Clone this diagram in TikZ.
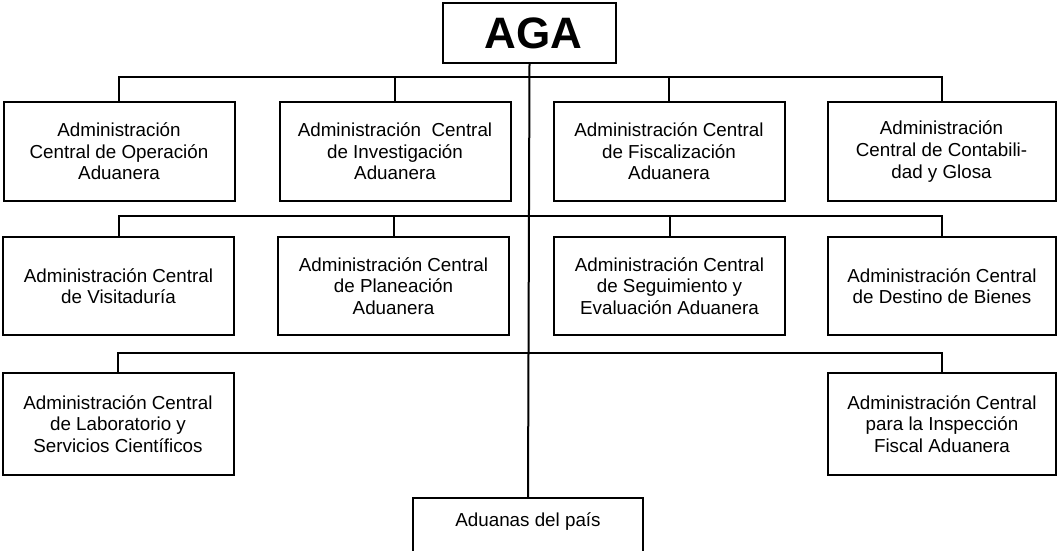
\documentclass[tikz,border=0pt]{standalone}
\usepackage{fontspec}
\setmainfont{Liberation Sans}
\begin{document}
\begin{tikzpicture}[x=1pt,y=-1pt,
  unit/.style={draw=black, line width=2pt, minimum width=231pt, minimum height=99pt,
    inner sep=0pt, align=center, font=\fontsize{18.8pt}{21.6pt}\selectfont},
  link/.style={draw=black, line width=2pt}]
\useasboundingbox[fill=white] (0,0) rectangle (1058,550);
\clip (0,0) rectangle (1058,550);
\node[draw=black, line width=2pt, minimum width=173pt, minimum height=60pt, inner sep=0pt,
  font=\fontsize{44pt}{48pt}\selectfont\bfseries] (aga) at (529.5,33) {\hspace{8pt}AGA};
% row 1
\node[unit] (r1a) at (119,151.5) {Administración\\Central de Operación\\Aduanera};
\node[unit] (r1b) at (395,151.5) {Administración\ \ Central\\de Investigación\\Aduanera};
\node[unit] (r1c) at (669,151.5) {Administración Central\\de Fiscalización\\Aduanera};
\node[unit, minimum width=228pt] (r1d) at (941.5,151.5) {Administración\\Central de Contabili-\\dad y Glosa};
% row 2
\node[unit, minimum height=98pt] (r2a) at (118.5,286) {Administración Central\\de Visitaduría};
\node[unit, minimum height=98pt] (r2b) at (393.5,286) {Administración Central\\de Planeación\\Aduanera};
\node[unit, minimum height=98pt] (r2c) at (669.5,286) {Administración Central\\de Seguimiento y\\Evaluación Aduanera};
\node[unit, minimum height=98pt, minimum width=228pt] (r2d) at (942,286) {Administración Central\\de Destino de Bienes};
% row 3
\node[unit, minimum height=102pt] (r3a) at (118,424) {Administración Central\\de Laboratorio y\\Servicios Científicos};
\node[unit, minimum height=102pt, minimum width=228pt] (r3d) at (942,424) {Administración Central\\para la Inspección\\Fiscal Aduanera};
% bottom
\node[unit, minimum width=230pt, minimum height=100pt, anchor=north] (bot) at (528,497) {};
\node[font=\fontsize{18.8pt}{21.6pt}\selectfont] (bott) at (528,522) {Aduanas del país};
% bars
\coordinate (b1) at (529,77);
\coordinate (b2) at (529,216);
\coordinate (b3) at (529,353);
\draw[link] (aga.south) -- (bot.north);
\draw[link] (r1a.north) |- (b1) -| (r1d.north);
\draw[link] (r1b.north) -- (r1b.north |- b1);
\draw[link] (r1c.north) -- (r1c.north |- b1);
\draw[link] (r2a.north) |- (b2) -| (r2d.north);
\draw[link] (r2b.north) -- (r2b.north |- b2);
\draw[link] (r2c.north) -- (r2c.north |- b2);
\draw[link] (r3a.north) |- (b3) -| (r3d.north);
\end{tikzpicture}
\end{document}
